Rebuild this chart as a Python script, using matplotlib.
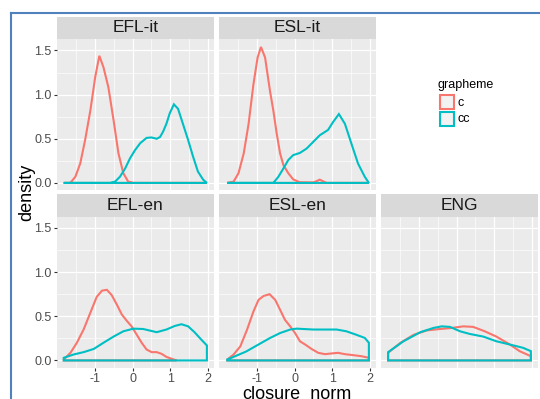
import matplotlib
matplotlib.use("Agg")
import matplotlib.pyplot as plt
from matplotlib.patches import Rectangle
from matplotlib.lines import Line2D

plt.rcParams["font.family"] = ["Liberation Sans", "DejaVu Sans"]

# --- data ---
facets = ["EFL-it", "ESL-it", "EFL-en", "ESL-en", "ENG"]
groups = ["c", "cc"]

efl_it_c_x = [-1.84, -1.71, -1.66, -1.53, -1.40, -1.27, -1.13, -1.00, -0.89, -0.78,
              -0.65, -0.51, -0.38, -0.25, -0.12, 0.02, 1.98]
efl_it_c_y = [0.0, 0.0, 0.003, 0.07, 0.22, 0.485, 0.82, 1.20, 1.44, 1.31,
              1.086, 0.71, 0.335, 0.11, 0.015, 0.0, 0.0]
efl_it_cc_x = [-1.84, -0.60, -0.47, -0.34, -0.20, -0.07, 0.06, 0.20, 0.37, 0.50,
               0.64, 0.73, 0.81, 0.90, 0.99, 1.10, 1.21, 1.34, 1.48, 1.61,
               1.74, 1.88, 1.98]
efl_it_cc_y = [0.0, 0.0, 0.015, 0.07, 0.165, 0.28, 0.37, 0.45, 0.51, 0.515,
               0.50, 0.52, 0.58, 0.67, 0.79, 0.89, 0.84, 0.67, 0.485, 0.30,
               0.13, 0.037, 0.0]

esl_it_c_x = [-1.80, -1.63, -1.50, -1.36, -1.23, -1.10, -0.99, -0.90, -0.79, -0.655,
              -0.57, -0.48, -0.39, -0.30, -0.17, -0.04, 0.14, 0.50, 0.67, 0.85, 1.98]
esl_it_c_y = [0.0, 0.015, 0.11, 0.335, 0.67, 1.12, 1.42, 1.54, 1.42, 1.03,
              0.82, 0.56, 0.335, 0.20, 0.11, 0.04, 0.007, 0.005, 0.037, 0.0, 0.0]
esl_it_cc_x = [-1.80, -0.57, -0.435, -0.30, -0.17, -0.04, 0.14, 0.32, 0.495, 0.67,
               0.89, 1.025, 1.18, 1.34, 1.51, 1.69, 1.87, 1.98]
esl_it_cc_y = [0.0, 0.0, 0.07, 0.165, 0.26, 0.315, 0.34, 0.39, 0.465, 0.54,
               0.60, 0.69, 0.78, 0.67, 0.45, 0.22, 0.07, 0.0]

efl_en_c_x = [-1.84, -1.66, -1.49, -1.31, -1.13, -0.96, -0.82, -0.69, -0.56, -0.42,
              -0.29, -0.16, -0.03, 0.11, 0.24, 0.37, 0.505, 0.64, 0.77, 0.90,
              1.04, 1.17]
efl_en_c_y = [0.01, 0.087, 0.20, 0.35, 0.54, 0.72, 0.79, 0.80, 0.74, 0.63,
              0.52, 0.45, 0.386, 0.29, 0.20, 0.124, 0.094, 0.094, 0.075, 0.04,
              0.019, 0.0]
efl_en_cc_x = [-1.84, -1.58, -1.31, -1.04, -0.78, -0.51, -0.25, 0.02, 0.28, 0.64,
               0.90, 1.12, 1.30, 1.48, 1.65, 1.83, 1.98]
efl_en_cc_y = [0.03, 0.067, 0.094, 0.13, 0.20, 0.27, 0.33, 0.36, 0.356, 0.32,
               0.35, 0.39, 0.41, 0.386, 0.32, 0.236, 0.17]

esl_en_c_x = [-1.80, -1.63, -1.45, -1.27, -1.10, -0.965, -0.83, -0.67, -0.52, -0.39,
              -0.26, -0.12, 0.01, 0.14, 0.28, 0.45, 0.63, 0.81, 0.98, 1.16,
              1.34, 1.56, 1.78, 1.98]
esl_en_c_y = [0.01, 0.067, 0.16, 0.35, 0.555, 0.686, 0.73, 0.75, 0.686, 0.574,
              0.46, 0.386, 0.31, 0.217, 0.18, 0.13, 0.086, 0.071, 0.079, 0.086,
              0.071, 0.06, 0.048, 0.03]
esl_en_cc_x = [-1.80, -1.30, -0.655, -0.39, -0.12, 0.05, 0.50, 1.12, 1.38, 1.65,
               1.87, 1.98]
esl_en_cc_y = [0.01, 0.10, 0.255, 0.31, 0.35, 0.36, 0.35, 0.35, 0.33, 0.29,
               0.255, 0.20]

eng_c_x = [-1.83, -1.50, -1.15, -0.80, -0.44, -0.13, 0.18, 0.44, 0.75, 1.06,
           1.42, 1.68, 1.98]
eng_c_y = [0.087, 0.20, 0.29, 0.34, 0.356, 0.368, 0.386, 0.38, 0.33, 0.27,
           0.18, 0.105, 0.048]
eng_cc_x = [-1.83, -1.42, -0.97, -0.62, -0.40, -0.18, 0.09, 0.35, 0.71, 1.06,
            1.42, 1.77, 1.98]
eng_cc_y = [0.094, 0.217, 0.32, 0.368, 0.386, 0.38, 0.33, 0.30, 0.27, 0.217,
            0.18, 0.143, 0.105]

x_ticks = [-1, 0, 1, 2]
y_ticks = [0.0, 0.5, 1.0, 1.5]
y_tick_labels = ["0.0", "0.5", "1.0", "1.5"]

curves = {
    "EFL-it": [(efl_it_c_x, efl_it_c_y), (efl_it_cc_x, efl_it_cc_y)],
    "ESL-it": [(esl_it_c_x, esl_it_c_y), (esl_it_cc_x, esl_it_cc_y)],
    "EFL-en": [(efl_en_c_x, efl_en_c_y), (efl_en_cc_x, efl_en_cc_y)],
    "ESL-en": [(esl_en_c_x, esl_en_c_y), (esl_en_cc_x, esl_en_cc_y)],
    "ENG": [(eng_c_x, eng_c_y), (eng_cc_x, eng_cc_y)],
}

# --- layout (pixels) ---
W, H = 540, 399
colors = {"c": "#F8766D", "cc": "#00BFC4"}
cols = [(57, 214), (219, 376), (381, 538)]
rows = [(39, 190), (216.5, 367.5)]
strips = [(17, 39), (194, 216.5)]
grid_pos = {"EFL-it": (0, 0), "ESL-it": (0, 1), "EFL-en": (1, 0),
            "ESL-en": (1, 1), "ENG": (1, 2)}


def fx(x):
    return x / W


def fy(y):
    return 1 - y / H


fig = plt.figure(figsize=(W / 100, H / 100), dpi=100)

for name in facets:
    r, c = grid_pos[name]
    left, right = cols[c]
    top, bottom = rows[r]
    ax = fig.add_axes([fx(left), fy(bottom), fx(right - left), (bottom - top) / H])
    ax.set_facecolor("#EBEBEB")
    for s in ax.spines.values():
        s.set_visible(False)
    ax.set_xlim(-2.02, 2.17)
    ax.set_ylim(-0.08, 1.63)
    ax.set_xticks(x_ticks)
    ax.set_xticks([-1.5, -0.5, 0.5, 1.5], minor=True)
    ax.set_yticks(y_ticks)
    ax.set_yticks([0.25, 0.75, 1.25], minor=True)
    ax.grid(which="major", color="white", linewidth=0.9)
    ax.grid(which="minor", color="white", linewidth=0.45)
    ax.set_axisbelow(True)
    ax.tick_params(which="minor", length=0)
    ax.tick_params(which="major", length=2.5, width=0.8, color="#333333",
                   labelcolor="#4D4D4D", labelsize=9, pad=1.5)
    if c == 0:
        ax.set_yticklabels(y_tick_labels)
    else:
        ax.tick_params(axis="y", length=0, labelleft=False)
    if r == 1 and c < 2:
        ax.set_xticklabels([str(t) for t in x_ticks])
    else:
        ax.tick_params(axis="x", length=0, labelbottom=False)

    for g, (xs, ys) in zip(groups, curves[name]):
        px = list(xs) + [xs[-1], xs[0]]
        py = list(ys) + [0.0, 0.0]
        ax.fill(px, py, facecolor="none", edgecolor=colors[g], linewidth=1.5)

    st, sb = strips[r]
    fig.add_artist(Rectangle((fx(left), fy(sb)), fx(right - left), (sb - st) / H,
                             transform=fig.transFigure, facecolor="#D9D9D9",
                             edgecolor="none"))
    fig.text(fx((left + right) / 2), fy((st + sb) / 2), name, ha="center",
             va="center", fontsize=12.5, color="#1A1A1A")

# axis titles
fig.text(fx(27), fy(192), "density", rotation=90, ha="center", va="center",
         fontsize=13, color="black")
fig.text(fx(297), fy(386), "closure_norm", ha="center", va="top",
         fontsize=13, color="black")

# legend
fig.text(fx(438), fy(85), "grapheme", ha="left", va="center", fontsize=9)
for i, g in enumerate(groups):
    ky = 95 + i * 17
    fig.add_artist(Rectangle((fx(440), fy(ky + 14)), fx(14), 14 / H,
                             transform=fig.transFigure, facecolor="#F2F2F2",
                             edgecolor=colors[g], linewidth=1.5))
    fig.text(fx(458), fy(ky + 7.5), g, ha="left", va="center", fontsize=9)

# blue window border
border = "#4F81BD"
fig.add_artist(Line2D([fx(11), fx(11)], [fy(13), 0], transform=fig.transFigure,
                      color=border, linewidth=1.5))
fig.add_artist(Line2D([fx(11), 1], [fy(13), fy(13)], transform=fig.transFigure,
                      color=border, linewidth=1.5))

fig.savefig("out.png", dpi=100)
